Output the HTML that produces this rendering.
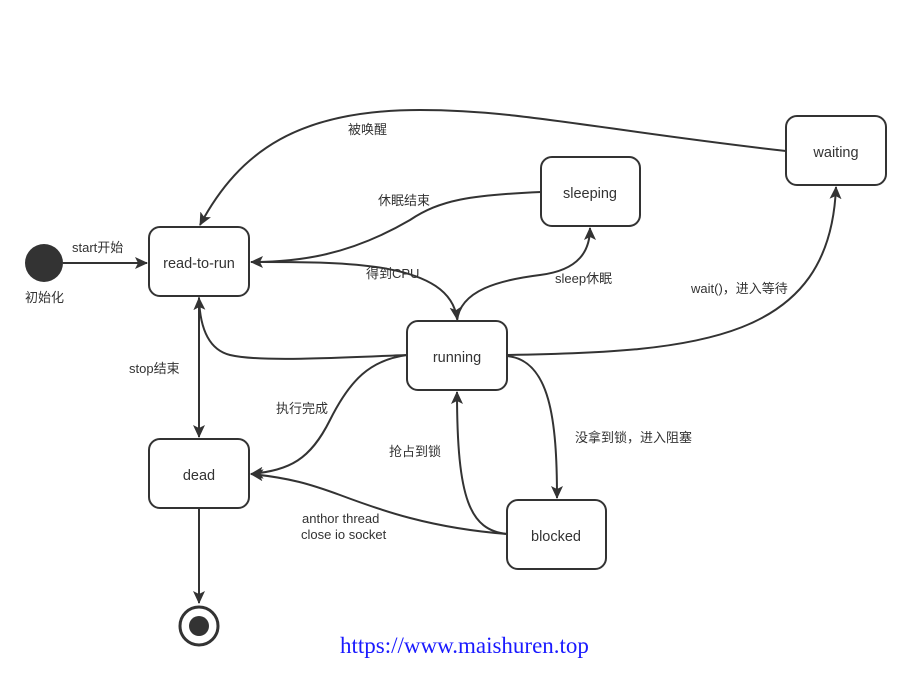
<!DOCTYPE html>
<html><head><meta charset="utf-8"><style>
body{margin:0;background:#fff;}
svg text{font-family:"Liberation Sans","Noto Sans CJK SC",sans-serif;font-size:13px;fill:#333;}
</style></head><body>
<svg width="911" height="670" xmlns="http://www.w3.org/2000/svg">
<defs><marker id="a" markerWidth="13" markerHeight="12" refX="12" refY="6" orient="auto" markerUnits="userSpaceOnUse"><path d="M0,0 L13,6 L0,12 L3,6 Z" fill="#333"/></marker></defs>
<g fill="none" stroke="#333" stroke-width="2">
<path d="M63,263 L147,263" marker-end="url(#a)"/>
<path d="M786,151 C600,130 520,110 420,110 C300,110 240,150 200,225" marker-end="url(#a)"/>
<path d="M541,192 C470,195 440,200 410,220 C350,255 300,262 251,262" marker-end="url(#a)"/>
<path d="M251,262 C340,262 450,260 457,319" marker-end="url(#a)"/>
<path d="M457,321 C460,290 500,280 540,275 C580,270 590,250 590,228" marker-end="url(#a)"/>
<path d="M507,355 C700,352 830,340 836,187" marker-end="url(#a)"/>
<path d="M407,355 C330,358 260,362 230,355 C210,350 200,330 199,298" marker-end="url(#a)"/>
<path d="M199,298 L199,437" marker-start="url(#a)" marker-end="url(#a)"/>
<path d="M407,355 C370,360 350,380 330,420 C310,460 290,470 251,474" marker-end="url(#a)"/>
<path d="M507,356 C550,360 557,420 557,498" marker-end="url(#a)"/>
<path d="M507,534 C470,530 457,500 457,392" marker-end="url(#a)"/>
<path d="M507,534 C430,528 380,510 340,495 C310,484 290,478 251,474" marker-end="url(#a)"/>
<path d="M199,508 L199,603" marker-end="url(#a)"/>
</g>
<circle cx="44" cy="263" r="19" fill="#333"/>
<circle cx="199" cy="626" r="19" fill="#fff" stroke="#333" stroke-width="3"/>
<circle cx="199" cy="626" r="10" fill="#333"/>
<g fill="#fff" stroke="#333" stroke-width="2">
<rect x="149" y="227" width="100" height="69" rx="11"/>
<rect x="541" y="157" width="99" height="69" rx="11"/>
<rect x="786" y="116" width="100" height="69" rx="11"/>
<rect x="407" y="321" width="100" height="69" rx="11"/>
<rect x="149" y="439" width="100" height="69" rx="11"/>
<rect x="507" y="500" width="99" height="69" rx="11"/>
</g>
<g text-anchor="middle">
<text x="199" y="268" style="font-size:14.5px">read-to-run</text>
<text x="590" y="198" style="font-size:14.5px">sleeping</text>
<text x="836" y="157" style="font-size:14.5px">waiting</text>
<text x="457" y="362" style="font-size:14.5px">running</text>
<text x="199" y="480" style="font-size:14.5px">dead</text>
<text x="556" y="541" style="font-size:14.5px">blocked</text>
</g>
<text x="72" y="252">start开始</text>
<text x="25" y="302">初始化</text>
<text x="348" y="134">被唤醒</text>
<text x="378" y="205">休眠结束</text>
<text x="366" y="278">得到CPU</text>
<text x="555" y="283">sleep休眠</text>
<text x="691" y="293">wait()，进入等待</text>
<text x="129" y="373">stop结束</text>
<text x="276" y="413">执行完成</text>
<text x="389" y="456">抢占到锁</text>
<text x="575" y="442">没拿到锁，进入阻塞</text>
<text x="302" y="523">anthor thread</text>
<text x="301" y="539">close io socket</text>
<text x="340" y="653" style="font-family:'Liberation Serif',serif;font-size:23px;fill:#1a1aff">https://www.maishuren.top</text>
</svg>
</body></html>
